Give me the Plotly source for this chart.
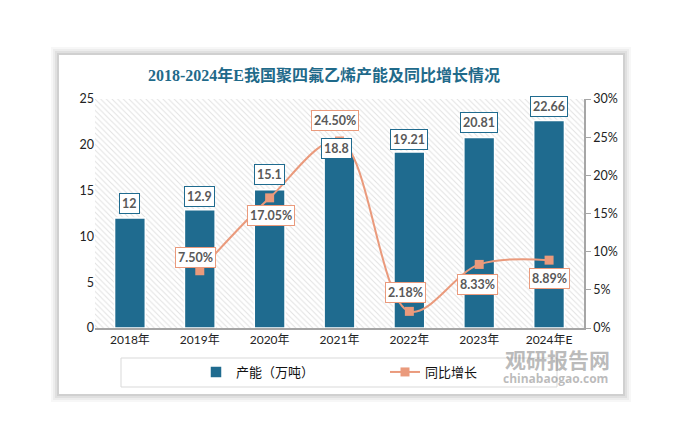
import plotly.graph_objects as go

# ---- data ----
categories = ["2018年", "2019年", "2020年", "2021年", "2022年", "2023年", "2024年E"]
capacity = [12, 12.9, 15.1, 18.8, 19.21, 20.81, 22.66]
growth_categories = ["2019年", "2020年", "2021年", "2022年", "2023年", "2024年E"]
growth = [0.075, 0.1705, 0.245, 0.0218, 0.0833, 0.0889]
growth_labels = ["7.50%", "17.05%", "24.50%", "2.18%", "8.33%", "8.89%"]
capacity_labels = ["12", "12.9", "15.1", "18.8", "19.21", "20.81", "22.66"]

# ---- layout constants ----
W, H = 682, 447
L, R, T, B = 95, 98, 99, 119
PW, PH = W - L - R, H - T - B

def px(x):
    return (x - L) / PW

def py(y):
    return (H - B - y) / PH

BAR_COLOR = "#1F6B8F"
LINE_COLOR = "#EA9A7C"
FONT = "Lato, Noto Sans CJK SC, sans-serif"

fig = go.Figure()

# hatched plot background
fig.add_trace(go.Bar(
    x=[0.5], y=[1], width=[1], xaxis="x", yaxis="y",
    marker=dict(color="white", line=dict(width=0),
                pattern=dict(shape="\\", fgcolor="#c4c4c4", bgcolor="white",
                             size=4, solidity=0.25)),
    showlegend=False, hoverinfo="skip"))

fig.add_trace(go.Bar(
    x=categories, y=capacity, name="产能（万吨）", xaxis="x2", yaxis="y2",
    width=0.44, marker=dict(color=BAR_COLOR, line=dict(color="white", width=1.5)),
))

fig.add_trace(go.Scatter(
    x=growth_categories, y=growth, name="同比增长", xaxis="x2", yaxis="y3",
    mode="lines+markers", line=dict(color=LINE_COLOR, width=2, shape="spline", smoothing=1.0),
    marker=dict(symbol="square", size=9, color=LINE_COLOR),
))

annotations = []
bar_shift = [15, 13, 15, 7, 13, 15, 14]
bar_xshift = [0, 0, 0, -3, 0, 0, 0]
for c, v, t, s, xs in zip(categories, capacity, capacity_labels, bar_shift, bar_xshift):
    annotations.append(dict(
        x=c, y=v, xref="x2", yref="y2", text="<b>%s</b>" % t, showarrow=False,
        yshift=s, xshift=xs, font=dict(family=FONT, size=12.5, color="#595959"),
        bgcolor="white", bordercolor=BAR_COLOR, borderwidth=1, borderpad=2))

line_shift = [13, -18, 20, 19, -20, -18]
line_xshift = [-4, 1, -5, -4, -2, 0]
for c, v, t, s, xs in zip(growth_categories, growth, growth_labels, line_shift, line_xshift):
    annotations.append(dict(
        x=c, y=v, xref="x2", yref="y3", text="<b>%s</b>" % t, showarrow=False,
        yshift=s, xshift=xs, font=dict(family=FONT, size=12.5, color="#595959"),
        bgcolor="white", bordercolor=LINE_COLOR, borderwidth=1, borderpad=2))

# watermark
annotations.append(dict(x=px(557), y=py(359), xref="paper", yref="paper", showarrow=False,
                        xanchor="center", yanchor="middle",
                        text="<b>观研报告网</b>", font=dict(family="Noto Sans CJK SC", size=21, color="rgba(120,120,120,0.5)")))
annotations.append(dict(x=px(555), y=py(378), xref="paper", yref="paper", showarrow=False,
                        xanchor="center", yanchor="middle",
                        text="<b>chinabaogao.com</b>", font=dict(family="Open Sans", size=12, color="rgba(120,120,120,0.5)")))

shapes = []
# card shadow
for i, a in enumerate([0.03, 0.04, 0.05, 0.07]):
    d = 8 - 2 * i
    shapes.append(dict(type="rect", xref="paper", yref="paper", layer="below",
                       x0=px(59 - d), x1=px(623 + d), y0=py(394 + d), y1=py(55 - d),
                       fillcolor="rgba(0,0,0,%s)" % a, line=dict(width=0)))
shapes.append(dict(type="rect", xref="paper", yref="paper", layer="below",
                   x0=px(59), x1=px(623), y0=py(394), y1=py(55),
                   fillcolor="white", line=dict(width=0)))
# legend box
shapes.append(dict(type="rect", xref="paper", yref="paper", layer="below",
                   x0=px(121), x1=px(557), y0=py(387), y1=py(358),
                   fillcolor="white", line=dict(color="#d9d9d9", width=1)))

fig.update_layout(
    width=W, height=H,
    margin=dict(l=L, r=R, t=T, b=B),
    paper_bgcolor="white", plot_bgcolor="rgba(0,0,0,0)",
    barmode="overlay",
    title=dict(text="<b>2018-2024年E我国聚四氟乙烯产能及同比增长情况</b>",
               x=324 / W, xanchor="center",
               y=1 - 75 / H, yanchor="middle",
               font=dict(family="Liberation Serif, Noto Sans CJK SC", size=16, color="#1F6A8A")),
    xaxis=dict(range=[0, 1], visible=False, fixedrange=True),
    yaxis=dict(range=[0, 1], visible=False, fixedrange=True),
    xaxis2=dict(overlaying="x", type="category", categoryorder="array", categoryarray=categories,
                range=[-0.5, 6.5], showline=True, linecolor="#a6a6a6", linewidth=1.5,
                ticks="", showgrid=False, tickfont=dict(family=FONT, size=12, color="#222")),
    yaxis2=dict(overlaying="y", side="left", anchor="x2", range=[0, 25], dtick=5,
                showgrid=False, showline=False, zeroline=False, ticks="",
                tickfont=dict(family=FONT, size=12.5, color="#222")),
    yaxis3=dict(overlaying="y", side="right", anchor="x2", range=[0, 0.30], dtick=0.05,
                tickformat=".0%", showgrid=False, zeroline=False, showline=True,
                linecolor="#a6a6a6", linewidth=1.5, ticks="outside", ticklen=5, tickcolor="#a6a6a6",
                tickfont=dict(family=FONT, size=12.5, color="#222")),
    legend=dict(orientation="h", x=px(196), y=py(372), xanchor="left", yanchor="middle",
                entrywidth=144, entrywidthmode="pixels", bgcolor="rgba(0,0,0,0)",
                font=dict(family=FONT, size=13, color="#111")),
    annotations=annotations, shapes=shapes,
)

fig.write_html("out.html", config={"displayModeBar": False},
               post_script="document.body.style.margin='0px';")
